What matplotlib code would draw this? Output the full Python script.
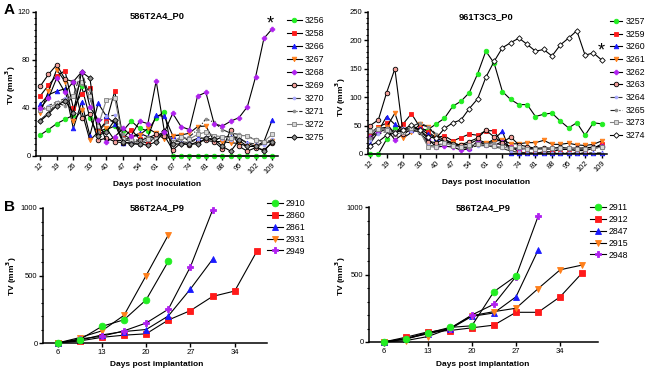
import numpy as np
import matplotlib.pyplot as plt
from matplotlib.ticker import MultipleLocator

plt.rcParams['font.family'] = ['Liberation Sans', 'DejaVu Sans']

##########################################################################################
# Data
##########################################################################################
# Panel A: measurements twice a week, plotted evenly spaced
days_A = [12, 15, 19, 22, 26, 29, 33, 36, 40, 43, 47, 50, 54, 57, 61, 64, 67,
          71, 74, 78, 81, 85, 88, 92, 95, 99, 102, 106, 109]
ticks_A = ["12", "19", "26", "33", "40", "47", "54", "61", "67", "74", "81",
           "88", "95", "102", "109"]

# 586T2A4_P0
ids_A1 = ["3256", "3258", "3266", "3267", "3268", "3269", "3270", "3271", "3272", "3275"]
tv_3256 = [17.5, 22, 27, 30.5, 34, 58, 32, 17.5, 22, 25, 21, 29, 23, 21, 32, 37,
           0, 0, 0, 0, 0, 0, 0, 0, 0, 0, 0, 0, 0]
tv_3258 = [50, 59, 67, 71, 40, 52, 57, 21, 29, 54, 15, 22, 14, 10, 17, 20]
tv_3266 = [43, 51, 54, 56, 23, 45, 17, 44, 33, 27, 11, 16, 19, 16, 34, 33, 17,
           17.5, 12, 14.7, 15, 13, 16, 16, 15, 10.5, 8, 12, 30]
tv_3267 = [35.5, 54, 72, 62, 29, 38, 13, 20, 23, 13, 13, 16, 17.5, 23, 19, 14,
           16.7, 17.5, 19, 24.5, 25, 12, 12, 11, 10.5, 8, 8, 10.5, 12.5]
tv_3268 = [40, 48, 65, 53, 62, 70, 41, 30, 12, 16, 23, 17, 29, 27, 62.5, 20,
           35.5, 24.5, 22, 50, 53, 26.7, 25, 29, 32, 41, 66, 98, 106]
tv_3269 = [58, 68, 76, 64, 62, 32, 35, 13, 15, 12, 11, 11, 13, 15, 18, 17, 5,
           11, 9, 12, 13, 12, 6, 22, 8, 4, 7, 5, 11]
tv_3270 = [38, 42, 45, 48, 50, 71, 48, 28, 33, 34, 14, 12, 9, 13, 12, 21, 12,
           12, 11, 14, 16, 17, 14, 13, 15, 11, 10, 9, 14]
tv_3271 = [30, 36, 44, 42, 50, 60, 55, 20, 28, 30, 18, 14, 13, 16, 15, 20, 12,
           14, 16, 22, 31, 28, 22, 19, 18, 16, 14, 12, 13]
tv_3272 = [38, 40, 44, 46, 50, 62, 50, 25, 47, 48, 14, 14, 10, 14, 14, 20, 12,
           16, 14, 18, 20, 17, 16, 15, 17, 17, 13, 12, 18]
tv_3275 = [29, 35, 42, 46, 36, 70, 65, 17, 20, 30, 12, 10, 10, 9, 12, 21, 10,
           10, 10, 10, 15, 14, 8, 4, 13, 8, 8, 4, 12]
tv_A1 = [tv_3256, tv_3258, tv_3266, tv_3267, tv_3268, tv_3269, tv_3270,
         tv_3271, tv_3272, tv_3275]

# 961T3C3_P0
ids_A2 = ["3257", "3259", "3260", "3261", "3262", "3263", "3264", "3265", "3273", "3274"]
tv_3257 = [0, 0, 26, 46, 36, 48, 42, 43, 53, 63, 84, 93, 108, 141, 181, 160,
           110, 96, 87, 87, 66, 70, 72, 58, 46, 55, 33, 55, 53]
tv_3259 = [36, 48, 54, 35, 53, 71, 48, 39, 29, 32, 23, 29, 35, 33, 41, 41,
           17.6, 13, 4, 1, 1, 4, 4, 8, 8, 6, 6, 10, 17.6]
tv_3260 = [18, 40, 66, 52, 44, 42, 45, 35, 28, 22, 18, 12, 10, 22, 18, 26, 40,
           1, 1, 1, 1, 1, 1, 1, 1, 1, 1, 1, 1]
tv_3261 = [30, 45, 47, 72, 28, 38, 52, 48, 32, 25, 20, 15, 18, 25, 20, 22, 25,
           18, 18, 20, 20, 24, 17, 17, 19, 16, 15, 17, 23]
tv_3262 = [30, 38, 44, 25, 35, 44, 42, 27, 12, 14, 12, 7, 9, 22, 16, 15, 22,
           12, 8, 10, 9, 8, 10, 10, 10, 10, 9, 12, 14]
tv_3263 = [50, 60, 108, 150, 35, 44, 38, 22, 20, 26, 18, 16, 22, 28, 42, 30,
           20, 30, 16, 13, 10, 11, 10, 12, 10, 10, 11, 12, 12]
tv_3264 = [25, 35, 40, 38, 45, 40, 40, 15, 14, 20, 15, 12, 12, 14, 15, 12, 10,
           5, 3, 2, 2, 2, 2, 2, 2, 2, 2, 2, 2]
tv_3265 = [28, 42, 45, 40, 42, 48, 55, 48, 35, 22, 18, 12, 10, 15, 18, 20, 15,
           12, 10, 10, 10, 8, 9, 9, 9, 8, 8, 10, 12]
tv_3273 = [40, 44, 42, 35, 38, 45, 40, 13, 12, 20, 14, 12, 15, 18, 16, 14, 12,
           10, 12, 8, 8, 8, 10, 10, 10, 9, 9, 10, 12]
tv_3274 = [14.7, 21.7, 33, 37, 43, 51, 42, 30, 28, 45, 55, 60, 80, 97, 135,
           163, 187, 196, 204, 193, 181, 184, 172.5, 192, 204, 217, 174, 178, 165.5]
tv_A2 = [tv_3257, tv_3259, tv_3260, tv_3261, tv_3262, tv_3263, tv_3264,
         tv_3265, tv_3273, tv_3274]

# Panel B: 586T2A4_P9
days_B = [6, 9.5, 13, 16.5, 20, 23.5, 27, 30.5, 34, 37.5]
ids_B1 = ["2910", "2860", "2861", "2931", "2949"]
tv_B1 = [[0, 25, 123, 172, 320, 605],
         [0, 15, 42, 58, 68, 170, 240, 345, 385, 680],
         [0, 20, 60, 85, 100, 200, 400, 620],
         [0, 40, 90, 205, 500, 800],
         [0, 30, 50, 90, 148, 250, 565, 985]]
ids_B2 = ["2911", "2912", "2847", "2915", "2948"]
tv_B2 = [[0, 20, 66, 108, 120, 373, 489],
         [0, 35, 75, 85, 105, 125, 220, 220, 335, 512],
         [0, 25, 60, 95, 190, 215, 335, 680],
         [0, 10, 40, 100, 195, 225, 250, 395, 535, 570],
         [0, 25, 70, 100, 200, 280, 485, 930]]

##########################################################################################
# Styles
##########################################################################################
GREEN, RED, BLUE, ORANGE, PURPLE = "#22ee22", "#ff1a1a", "#1a1aff", "#ff7f1a", "#b020f0"
SALMON = "#f4a09a"
styles_A = [
    dict(marker="o", mfc=GREEN, mec=GREEN, ls="-", color="black"),
    dict(marker="s", mfc=RED, mec=RED, ls="-", color="black"),
    dict(marker="^", mfc=BLUE, mec=BLUE, ls="-", color="black"),
    dict(marker="v", mfc=ORANGE, mec=ORANGE, ls="-", color="black"),
    dict(marker="P", mfc=PURPLE, mec=PURPLE, ls="-", color="black"),
    dict(marker="o", mfc=SALMON, mec="black", ls="-", color="black"),
    dict(marker="o", mfc="#a8a8ff", mec="#a8a8ff", ls=(0, (5, 2)), color="#333333", ms=2),
    dict(marker="o", mfc="#909090", mec="#909090", ls="-.", color="#222222", ms=2),
    dict(marker="s", mfc="#d8d8d8", mec="#808080", ls="-", color="#808080"),
]
style_3275 = dict(marker="D", mfc="#909090", mec="black", ls="-", color="black", ms=2.8)
style_3274 = dict(marker="D", mfc="white", mec="black", ls="-", color="black", ms=2.8)
styles_B = styles_A[:5]

fig = plt.figure(figsize=(6.49, 3.70), dpi=100)
W, H = 649., 370.


def px_axes(l, t, r, b):
    return fig.add_axes([l / W, 1 - b / H, (r - l) / W, (b - t) / H])


def style_axis(ax):
    for s in ["top", "right"]:
        ax.spines[s].set_visible(False)
    for s in ["left", "bottom"]:
        ax.spines[s].set_linewidth(1.1)
    ax.tick_params(which="major", length=3, width=1.0, labelsize=5.5, pad=1)
    ax.tick_params(which="minor", length=1.8, width=0.8)
    ax.tick_params(axis="x", which="minor", bottom=False)


def draw(ax, x, y, st, ms=3.3, lw=0.8, z=2):
    kw = dict(st)
    m = kw.pop("ms", ms)
    h, = ax.plot(x, y, marker=kw["marker"], markerfacecolor=kw["mfc"],
                 markeredgecolor=kw["mec"], markeredgewidth=0.6, markersize=m,
                 linestyle=kw["ls"], color=kw["color"], linewidth=lw,
                 clip_on=False, zorder=z)
    return h


def legend(ax, handles, labels, x, y, hl, tp, ls):
    ax.legend(handles, labels, loc="upper left", bbox_to_anchor=(x / W, 1 - y / H),
              bbox_transform=fig.transFigure, frameon=False, fontsize=6.3,
              handlelength=hl, handletextpad=tp, labelspacing=ls,
              borderpad=0, borderaxespad=0)


def labels(xc, xl_y, yl_x, yc, title, title_y, xlabel):
    fig.text(xc / W, 1 - title_y / H, title, ha="center", va="center",
             fontsize=6.7, fontweight="bold")
    fig.text(xc / W, 1 - xl_y / H, xlabel, ha="center", va="center",
             fontsize=6, fontweight="bold")
    fig.text(yl_x / W, 1 - yc / H, "TV (mm$^\\mathbf{3}$)", ha="center", va="center",
             rotation=90, fontsize=6, fontweight="bold")


idx = np.arange(len(days_A))

#
# A, left
#
ax = px_axes(36, 12, 278, 156)
style_axis(ax)
hs = []
for i, (mid, tv) in enumerate(zip(ids_A1, tv_A1)):
    st = styles_A[i] if i < 9 else style_3275
    hs.append(draw(ax, idx[:len(tv)], tv, st, z=2 + (i == 4)))
ax.set_xlim(-0.5, 28.7)
ax.set_ylim(0, 120)
ax.set_xticks(idx[::2])
ax.set_xticklabels(ticks_A, rotation=45, ha="right", rotation_mode="anchor")
ax.yaxis.set_major_locator(MultipleLocator(40))
ax.yaxis.set_minor_locator(MultipleLocator(5))
legend(ax, hs, ids_A1, 287, 16, 1.7, 0.35, 0.46)
labels(157, 184, 11, 85, "586T2A4_P0", 16, "Days post inoculation")
fig.text(270 / W, 1 - 24 / H, "*", ha="center", va="center", fontsize=13)

#
# A, right
#
ax = px_axes(368, 12, 607, 154)
style_axis(ax)
hs = []
for i, (mid, tv) in enumerate(zip(ids_A2, tv_A2)):
    st = styles_A[i] if i < 9 else style_3274
    hs.append(draw(ax, idx[:len(tv)], tv, st))
ax.set_xlim(-0.25, 28.65)
ax.set_ylim(0, 250)
ax.set_xticks(idx[::2])
ax.set_xticklabels(ticks_A, rotation=45, ha="right", rotation_mode="anchor")
ax.yaxis.set_major_locator(MultipleLocator(50))
ax.yaxis.set_minor_locator(MultipleLocator(10))
legend(ax, hs, ids_A2, 610, 17, 1.4, 0.4, 0.42)
labels(486, 182, 341, 97, "961T3C3_P0", 17, "Days post inoculation")
fig.text(601 / W, 1 - 51 / H, "*", ha="center", va="center", fontsize=13)

#
# B, left and right
#
for (l, t, r, b, xmax), ids, tvs, lx, ly, xc, yl in [
        ((43, 208, 267, 343, 39.1), ids_B1, tv_B1, 267, 199, 157, 12),
        ((369, 207, 598, 342, 40.0), ids_B2, tv_B2, 590, 203, 483, 341)]:
    ax = px_axes(l, t, r, b)
    style_axis(ax)
    hs = []
    for i, (mid, tv) in enumerate(zip(ids, tvs)):
        hs.append(draw(ax, days_B[:len(tv)], tv, styles_B[i], ms=4.8, lw=0.8,
                       z=6 if i == 0 else 2))
    ax.set_xlim(3.7, xmax)
    ax.set_ylim(0, 1000)
    ax.set_xticks([6, 13, 20, 27, 34])
    ax.yaxis.set_major_locator(MultipleLocator(500))
    ax.yaxis.set_minor_locator(MultipleLocator(100))
    legend(ax, hs, ids, lx, ly, 1.8, 0.35, 0.33)
    labels(xc, 364, yl, 276, "586T2A4_P9", 208, "Days post implantation")

fig.text(4 / W, 1 - 3 / H, "A", ha="left", va="top", fontsize=11, fontweight="bold")
fig.text(4 / W, 1 - 200 / H, "B", ha="left", va="top", fontsize=11, fontweight="bold")

fig.savefig("out.png", dpi=100)
